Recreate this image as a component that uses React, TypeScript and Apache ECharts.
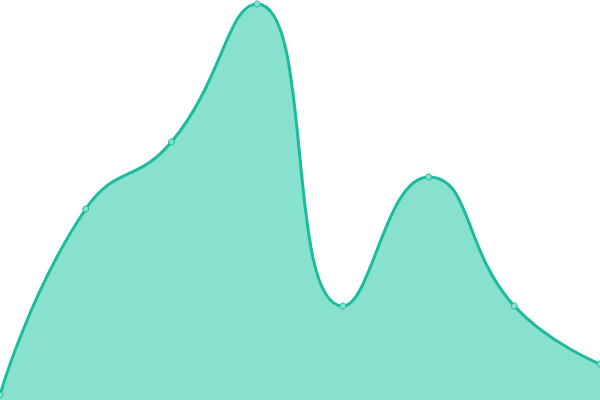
import React, { useEffect, useRef } from "react";
import * as echarts from "echarts";

// Data (arbitrary units, axis 0..400, hidden axes)
const categories = ["A", "B", "C", "D", "E", "F", "G", "H"];
const values = [5, 191, 258, 396, 94, 223, 94, 36];

const App = () => {
    const chartRef = useRef<HTMLDivElement>(null);

    useEffect(() => {
        if (!chartRef.current) return;
        const chart = echarts.init(chartRef.current, null, { renderer: "svg" });
        chart.setOption({
            animation: false,
            grid: { left: 0, right: 0, top: 0, bottom: 0 },
            xAxis: {
                type: "category",
                data: categories,
                boundaryGap: false,
                show: false,
            },
            yAxis: { type: "value", min: 0, max: 400, show: false },
            series: [
                {
                    type: "line",
                    data: values,
                    smooth: true,
                    symbol: "circle",
                    symbolSize: 6,
                    showSymbol: true,
                    itemStyle: { color: "#88e0cf", borderColor: "#1abc9c", borderWidth: 1 },
                    lineStyle: { color: "#1abc9c", width: 3 },
                    areaStyle: { color: "#88e0cf", opacity: 1 },
                },
            ],
        });
        return () => {
            chart.dispose();
        };
    }, []);

    return (
        <div
            ref={chartRef}
            style={{ position: "absolute", left: 0, top: 0, width: "600px", height: "400px" }}
        />
    );
};

export default App;
